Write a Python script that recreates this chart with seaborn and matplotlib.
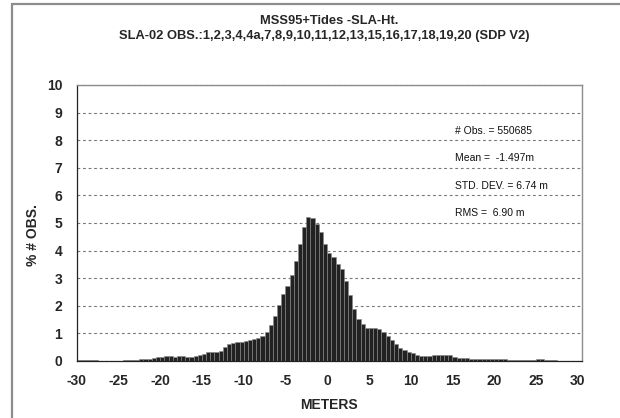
import numpy as np
import pandas as pd
import matplotlib
matplotlib.use("Agg")
import matplotlib.pyplot as plt
from matplotlib.lines import Line2D
import seaborn as sns

# histogram of SLA residuals, 0.5 m bins from -30 to 30 m (% of observations)
bin_width = 0.5
bin_left = np.arange(-30, 30, bin_width)
pct_obs = [
    0.03, 0.03, 0.03, 0.03, 0.03, 0.00, 0.00, 0.00, 0.00, 0.00,   # -30 .. -25.5
    0.01, 0.02, 0.02, 0.03, 0.05, 0.06, 0.07, 0.09, 0.11, 0.13,   # -25 .. -20.5
    0.16, 0.17, 0.17, 0.15, 0.17, 0.17, 0.14, 0.14, 0.18, 0.23,   # -20 .. -15.5
    0.27, 0.33, 0.34, 0.34, 0.37, 0.49, 0.61, 0.67, 0.70, 0.70,   # -15 .. -10.5
    0.72, 0.75, 0.78, 0.84, 0.91, 1.04, 1.31, 1.64, 2.04, 2.41,   # -10 .. -5.5
    2.73, 3.10, 3.61, 4.23, 4.85, 5.20, 5.17, 4.98, 4.68, 4.25,   # -5 .. -0.5
    3.92, 3.77, 3.50, 3.33, 2.90, 2.39, 1.88, 1.51, 1.33, 1.21,   # 0 .. 4.5
    1.20, 1.19, 1.16, 1.06, 0.90, 0.77, 0.62, 0.47, 0.39, 0.33,   # 5 .. 9.5
    0.29, 0.21, 0.17, 0.17, 0.17, 0.22, 0.20, 0.22, 0.22, 0.20,   # 10 .. 14.5
    0.13, 0.12, 0.12, 0.12, 0.09, 0.09, 0.08, 0.08, 0.08, 0.07,   # 15 .. 19.5
    0.06, 0.06, 0.06, 0.05, 0.04, 0.04, 0.03, 0.03, 0.04, 0.05,   # 20 .. 24.5
    0.07, 0.07, 0.05, 0.04, 0.02, 0.00, 0.00, 0.00, 0.00, 0.00,   # 25 .. 29.5
]

x_ticks = list(range(-30, 35, 5))
y_ticks = list(range(0, 11))

title_1 = "MSS95+Tides -SLA-Ht."
title_2 = "SLA-02 OBS.:1,2,3,4,4a,7,8,9,10,11,12,13,15,16,17,18,19,20 (SDP V2)"
stats_text = ["# Obs. = 550685", "Mean =  -1.497m", "STD. DEV. = 6.74 m", "RMS =  6.90 m"]
stats_y = [8.35, 7.35, 6.35, 5.35]

sns.set_style("white")
plt.rcParams["font.family"] = ["Liberation Sans", "DejaVu Sans"]

W, H = 620, 418
fig = plt.figure(figsize=(W / 100, H / 100), dpi=100)
ax = fig.add_axes([76.7 / W, 1 - 361 / H, (581.7 - 76.7) / W, (361 - 85) / H])

df = pd.DataFrame({"meters": bin_left + bin_width / 2, "pct": pct_obs})
sns.histplot(data=df, x="meters", weights="pct", binwidth=bin_width, binrange=(-30, 30),
             ax=ax, color="#222222", alpha=1, edgecolor="#8a8a8a", linewidth=0.4)

ax.set_xlim(-30, 30.48)
ax.set_ylim(0, 10)
ax.set_xticks(x_ticks)
ax.set_yticks(y_ticks)
ax.set_xticklabels([str(t) for t in x_ticks], fontsize=10, fontweight="bold")
ax.set_yticklabels([str(t) for t in y_ticks], fontsize=10, fontweight="bold")
ax.tick_params(axis="both", direction="out", length=3.6, width=0.8, color="#333333")
ax.tick_params(axis="x", pad=6.0)
ax.tick_params(axis="y", pad=6.8)
ax.set_xlabel("")
ax.set_ylabel("")
ax.set_axisbelow(True)
ax.yaxis.grid(True, linestyle=(0, (2.5, 2.5)), color="#777777", linewidth=0.8)
ax.xaxis.grid(False)

for side in ["left", "bottom"]:
    ax.spines[side].set_color("#222222")
    ax.spines[side].set_linewidth(0.9)
for side in ["top", "right"]:
    ax.spines[side].set_visible(True)
    ax.spines[side].set_color("#8c8c8c")
    ax.spines[side].set_linewidth(1.0)

for txt, yv in zip(stats_text, stats_y):
    ax.text(15.3, yv, txt, fontsize=7.5, va="center", ha="left", color="#111111")

fig.text(329 / W, 1 - 21.5 / H, title_1, ha="center", va="center", fontsize=9.3, fontweight="bold")
fig.text(324 / W, 1 - 36.5 / H, title_2, ha="center", va="center", fontsize=9.3, fontweight="bold")
fig.text(33 / W, 1 - 235 / H, "% # OBS.", rotation=90, ha="center", va="center",
         fontsize=10, fontweight="bold")
fig.text(329 / W, 1 - 405 / H, "METERS", ha="center", va="center", fontsize=10, fontweight="bold")

# chart-area frame (only left and top edges fall inside the image)
fig.add_artist(Line2D([12 / W, 12 / W], [0, 1 - 4 / H], color="#8c8c8c", linewidth=1.6))
fig.add_artist(Line2D([12 / W, 1], [1 - 4 / H, 1 - 4 / H], color="#8c8c8c", linewidth=1.6))

fig.savefig("out.png", dpi=100)
